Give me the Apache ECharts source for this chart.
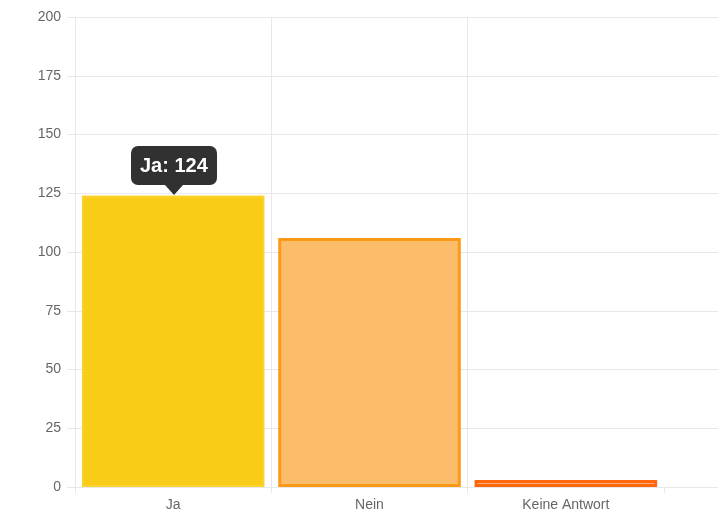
<!DOCTYPE html>
<html>
<head>
<meta charset="utf-8">
<script src="https://cdn.jsdelivr.net/npm/echarts@6/dist/echarts.min.js"></script>
<style>
html,body{margin:0;padding:0;background:#fff;}
#c{width:718px;height:513px;}
</style>
</head>
<body>
<div id="c"></div>
<script>
const categories = ['Ja', 'Nein', 'Keine Antwort'];
const values = [124, 106, 3];
const yTicks = [0, 25, 50, 75, 100, 125, 150, 175, 200];

const fills = ['#F8CC17', '#FBBD69', '#FDAB74'];
const borders = ['#FAD232', '#FC9A17', '#FF680F'];
const borderWidths = [2, 3, 3];

const FONT = 'Liberation Sans, Arial, sans-serif';
const GRID = '#e8e8e8';
const TIP_BG = '#313131';
const yMin = yTicks[0], yMax = yTicks[yTicks.length - 1], yStep = yTicks[1] - yTicks[0];

const chart = echarts.init(document.getElementById('c'), null, {renderer: 'canvas'});
chart.setOption({
  animation: false,
  backgroundColor: '#fff',
  textStyle: {fontFamily: FONT},
  grid: [
    {left: 75, right: 54, top: 17, bottom: 26, containLabel: false},
    {left: 664, right: 0, top: 17, bottom: 26, containLabel: false}
  ],
  tooltip: {
    trigger: 'item',
    alwaysShowContent: true,
    backgroundColor: TIP_BG,
    borderWidth: 0,
    padding: [8, 9],
    textStyle: {color: '#fff', fontSize: 20, fontWeight: 'bold', fontFamily: FONT, lineHeight: 23},
    extraCssText: 'border-radius:7px;box-shadow:none;overflow:visible;',
    position: function (pt, params, dom, rect, size) {
      const p = chart.convertToPixel({xAxisIndex: 0, yAxisIndex: 0}, [params.name, params.value]);
      return [p[0] + 1 - size.contentSize[0] / 2, p[1] - size.contentSize[1] - 11];
    },
    formatter: function (p) {
      return '<span>' + p.name + ': ' + p.value + '</span>' +
        '<div style="position:absolute;left:50%;bottom:-10px;margin-left:-9px;width:0;height:0;' +
        'border-left:9px solid transparent;border-right:9px solid transparent;border-top:10px solid ' + TIP_BG + ';"></div>';
    }
  },
  xAxis: [
    {
      type: 'category',
      gridIndex: 0,
      data: categories,
      boundaryGap: true,
      axisLine: {show: true, lineStyle: {color: GRID, width: 1}},
      axisTick: {show: true, length: 6, lineStyle: {color: GRID}},
      axisLabel: {color: '#666', fontSize: 14, margin: 11, fontFamily: FONT},
      splitLine: {show: true, showMaxLine: false, lineStyle: {color: GRID, width: 1}}
    },
    {type: 'value', gridIndex: 1, show: false, min: 0, max: 1}
  ],
  yAxis: [
    {
      type: 'value',
      gridIndex: 0,
      min: yMin, max: yMax, interval: yStep,
      axisLine: {show: true, lineStyle: {color: GRID, width: 1}},
      axisTick: {show: true, length: 8, lineStyle: {color: GRID}},
      axisLabel: {color: '#666', fontSize: 14, margin: 14, fontFamily: FONT},
      splitLine: {show: true, lineStyle: {color: GRID, width: 1}}
    },
    {
      type: 'value',
      gridIndex: 1,
      min: yMin, max: yMax, interval: yStep,
      axisLine: {show: false},
      axisTick: {show: false},
      axisLabel: {show: false},
      splitLine: {show: true, lineStyle: {color: GRID, width: 1}}
    }
  ],
  series: [{
    type: 'bar',
    xAxisIndex: 0,
    yAxisIndex: 0,
    barWidth: '93%',
    data: values.map((v, i) => ({
      value: v,
      itemStyle: {color: fills[i], borderColor: borders[i], borderWidth: borderWidths[i]}
    })),
    emphasis: {disabled: true}
  }]
});
chart.dispatchAction({type: 'showTip', seriesIndex: 0, dataIndex: 0});
</script>
</body>
</html>
